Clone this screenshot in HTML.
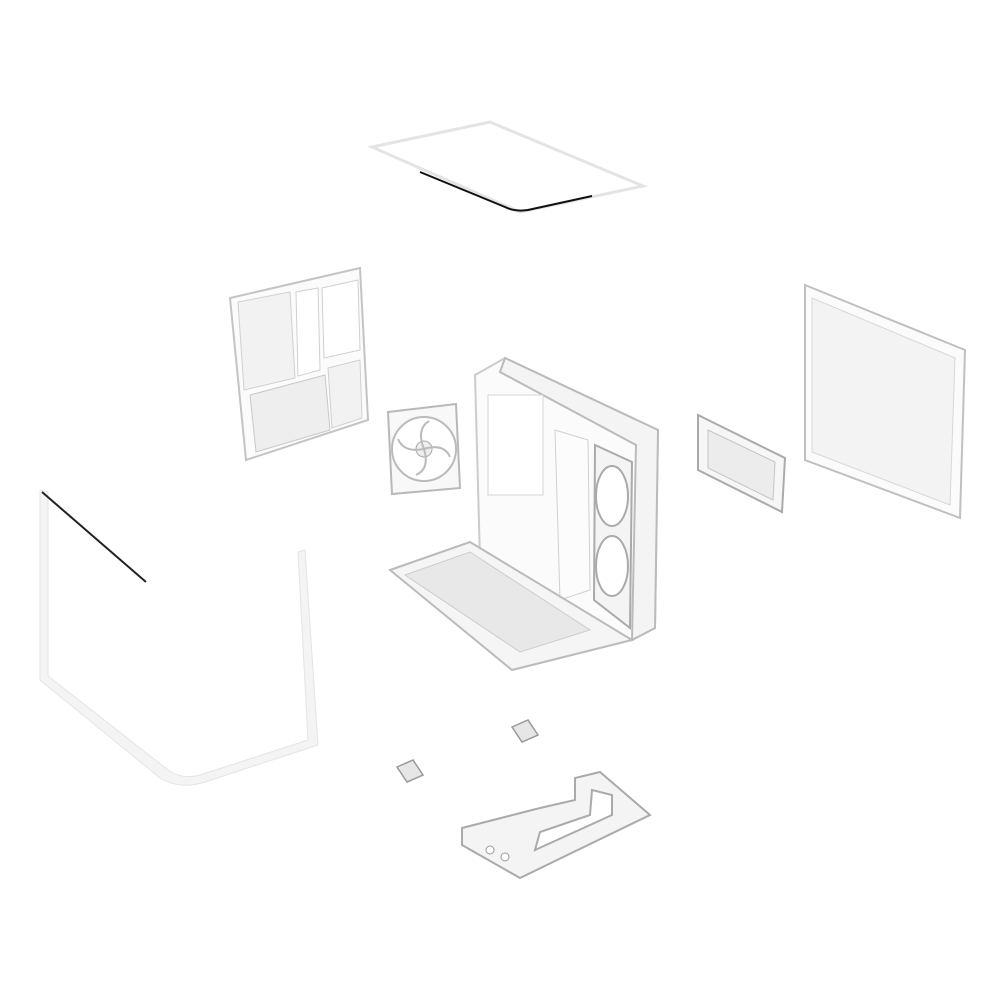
<!DOCTYPE html>
<html><head><style>
html,body{margin:0;padding:0;background:#fff;}
svg{display:block;}
</style></head><body>
<svg width="1000" height="1000" viewBox="0 0 1000 1000" xmlns="http://www.w3.org/2000/svg">
<rect width="1000" height="1000" fill="#fff"/>
<polygon points="372,147 490,122 643,186 520,212" fill="#fff" stroke="#e4e4e4" stroke-width="3"/>
<path d="M420,172 L505,207 Q515,212 528,210 L592,196" fill="none" stroke="#111" stroke-width="2"/>
<polygon points="230,298 360,268 368,420 246,460" fill="#fbfbfb" stroke="#c4c4c4" stroke-width="2"/>
<polygon points="238,302 290,292 295,378 244,390" fill="#f2f2f2" stroke="#d0d0d0"/>
<polygon points="296,292 318,288 320,370 298,376" fill="#fff" stroke="#d0d0d0"/>
<polygon points="322,288 358,280 360,350 324,358" fill="#fff" stroke="#d0d0d0"/>
<polygon points="250,395 325,375 330,430 256,452" fill="#eeeeee" stroke="#c8c8c8"/>
<polygon points="328,368 360,360 362,418 332,428" fill="#f2f2f2" stroke="#d0d0d0"/>
<polygon points="388,412 456,404 460,488 392,494" fill="#f8f8f8" stroke="#b8b8b8" stroke-width="2"/>
<circle cx="424" cy="449" r="32" fill="#fff" stroke="#bbb" stroke-width="2"/>
<circle cx="424" cy="449" r="8" fill="#eee" stroke="#aaa"/>
<path d="M424,449 q-8,-20 5,-28 M424,449 q20,-6 26,8 M424,449 q6,20 -8,26 M424,449 q-20,4 -26,-10" stroke="#bbb" fill="none" stroke-width="2"/>
<polygon points="475,375 505,358 658,430 655,628 632,640 480,560" fill="#fbfbfb" stroke="#cccccc" stroke-width="2"/>
<polygon points="505,358 658,430 655,628 632,640 636,445 500,372" fill="#f4f4f4" stroke="#bbb" stroke-width="2"/>
<polygon points="595,445 632,462 630,628 594,600" fill="#f4f4f4" stroke="#aaa" stroke-width="2"/>
<ellipse cx="612" cy="496" rx="16" ry="30" fill="#fff" stroke="#aaa" stroke-width="2"/>
<ellipse cx="612" cy="566" rx="16" ry="30" fill="#fff" stroke="#aaa" stroke-width="2"/>
<polygon points="555,430 588,440 590,590 560,600" fill="#fcfcfc" stroke="#d0d0d0"/>
<rect x="488" y="395" width="55" height="100" fill="#fff" stroke="#d4d4d4"/>
<polygon points="390,570 470,542 632,640 512,670" fill="#f5f5f5" stroke="#bbb" stroke-width="2"/>
<polygon points="405,575 470,552 590,630 520,652" fill="#e8e8e8" stroke="#ccc"/>
<polygon points="805,285 965,350 960,518 805,460" fill="#fbfbfb" stroke="#c0c0c0" stroke-width="2"/>
<polygon points="812,298 955,358 950,505 812,452" fill="#f3f3f3" stroke="#d8d8d8"/>
<polygon points="698,415 785,458 782,512 698,470" fill="#f6f6f6" stroke="#aaa" stroke-width="2"/>
<polygon points="708,430 775,462 773,500 708,468" fill="#ececec" stroke="#c4c4c4"/>
<path d="M40,490 L40,680 L160,778 Q180,790 205,782 L318,745 L305,550 L298,552 L308,740 L200,775 Q182,780 168,770 L48,676 L48,492 Z" fill="#f4f4f4" stroke="#e4e4e4" stroke-width="1"/>
<path d="M42,492 L146,582" stroke="#222" stroke-width="2"/>
<polygon points="512,727 528,720 538,735 522,742" fill="#e6e6e6" stroke="#999" stroke-width="1.5"/>
<polygon points="397,767 413,760 423,775 407,782" fill="#e6e6e6" stroke="#999" stroke-width="1.5"/>
<path d="M462,828 L540,808 L575,800 L575,778 L600,772 L650,815 L520,878 L462,845 Z M535,850 L612,815 L612,795 L592,790 L590,815 L540,832 Z" fill="#f4f4f4" stroke="#aaa" stroke-width="2" fill-rule="evenodd"/>
<circle cx="490" cy="850" r="4" fill="#fff" stroke="#999"/>
<circle cx="505" cy="857" r="4" fill="#fff" stroke="#999"/>
</svg>
</body></html>
